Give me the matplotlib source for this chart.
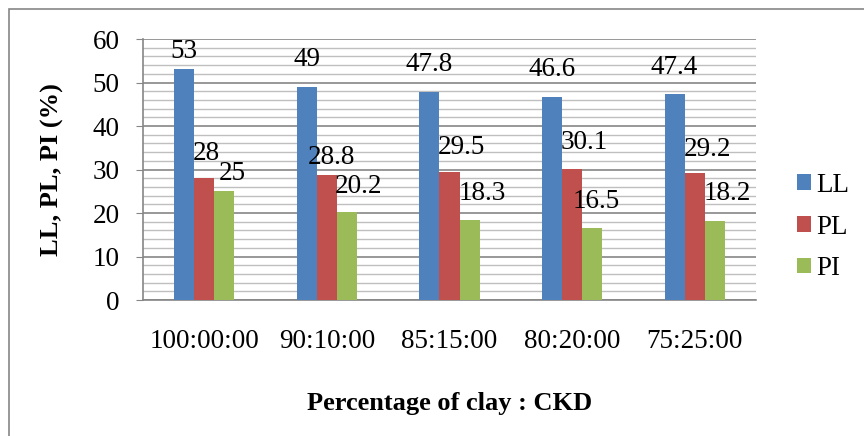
import numpy as np
import matplotlib.pyplot as plt
from matplotlib.patches import Rectangle

# Data
categories = ["100:00:00", "90:10:00", "85:15:00", "80:20:00", "75:25:00"]
ll = [53, 49, 47.8, 46.6, 47.4]
pl = [28, 28.8, 29.5, 30.1, 29.2]
pi = [25, 20.2, 18.3, 16.5, 18.2]
series_names = ["LL", "PL", "PI"]
colors = ["#4F81BD", "#C0504D", "#9BBB59"]

# hand-placed data label offsets (pixels) as in the original chart
ll_label_off = [(0, 5), (0, 15), (0, 15), (0, 15), (0, 14)]
pl_label_off = [(2, 12), (5, 5), (12, 12), (12, 14), (13, 11)]
pi_label_off = [(8, 5), (11, 13), (13, 14), (4, 14), (12, 15)]

plt.rcParams["font.family"] = ["Liberation Serif", "DejaVu Serif"]

fig = plt.figure(figsize=(8.64, 4.36), dpi=100)
ax = fig.add_axes([143 / 864, 1 - 300 / 436, 613 / 864, 261 / 436])

x = np.arange(len(categories))
w = 0.164
series = [ll, pl, pi]
offsets = [ll_label_off, pl_label_off, pi_label_off]
for i, (vals, name, c) in enumerate(zip(series, series_names, colors)):
    pos = x + (i - 1) * w
    ax.bar(pos, vals, width=w, color=c, label=name, zorder=3)
    for p, v, off in zip(pos, vals, offsets[i]):
        ax.annotate(f"{v:g}", (p, v), xytext=off, textcoords="offset pixels",
                    ha="center", va="bottom", fontsize=19.5, zorder=4,
                    annotation_clip=False)

ax.set_xlim(-0.5, len(categories) - 0.5)
ax.set_ylim(0, 60)
ax.set_yticks(range(0, 61, 10))
ax.set_yticks(range(0, 61, 2), minor=True)
ax.yaxis.grid(True, which="major", color="#868686", linewidth=1.2, zorder=0)
ax.yaxis.grid(True, which="minor", color="#BFBFBF", linewidth=1.0, zorder=0)
ax.set_xticks(x)
ax.set_xticklabels(categories, fontsize=19.5)
ax.tick_params(axis="x", length=0, pad=21)
ax.tick_params(axis="y", which="major", length=5, color="#868686", labelsize=19.5, pad=12)
ax.tick_params(axis="y", which="minor", length=0)

for side in ["top", "right"]:
    ax.spines[side].set_visible(False)
for side in ["left", "bottom"]:
    ax.spines[side].set_color("#868686")
    ax.spines[side].set_linewidth(1.2)

ax.set_ylabel("LL, PL, PI (%)", fontsize=19, fontweight="bold", labelpad=20)
ax.set_xlabel("Percentage of clay : CKD", fontsize=19, fontweight="bold", labelpad=27)

ax.legend(loc="center left", bbox_to_anchor=(797 / 864, 1 - 227 / 436),
          bbox_transform=fig.transFigure, frameon=False, fontsize=19.5,
          borderaxespad=0, borderpad=0, handlelength=0.5, handleheight=0.5,
          handletextpad=0.2, labelspacing=0.62)

# outer chart border
fig.patches.append(Rectangle((9 / 864, -0.1), 1.2, 1 - 9 / 436 + 0.1, transform=fig.transFigure,
                             fill=False, edgecolor="#868686", linewidth=1.2))

plt.savefig("out.png", dpi=100)
